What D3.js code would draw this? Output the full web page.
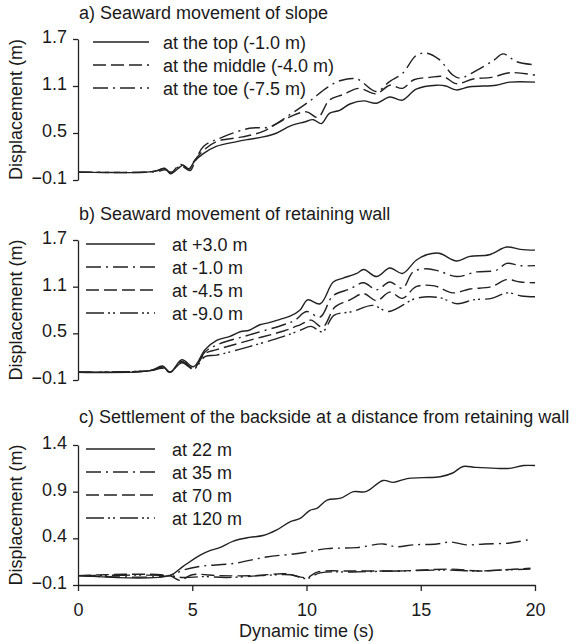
<!DOCTYPE html>
<html>
<head>
<meta charset="utf-8">
<script src="https://cdn.jsdelivr.net/npm/d3@7"></script>
<style>
  body { margin: 0; background: #fff; }
  svg { display: block; }
  text { font-family: "Liberation Sans", Arial, sans-serif; fill: #1a1a1a; }
</style>
</head>
<body>
<svg id="chart" width="577" height="644"></svg>
<script>
// ---------- data ----------
const xTicks = [0, 5, 10, 15, 20];
const yTicksAB = [-0.1, 0.5, 1.1, 1.7];
const yTicksC = [-0.1, 0.4, 0.9, 1.4];

const titles = [
  "a) Seaward movement of slope",
  "b) Seaward movement of retaining wall",
  "c) Settlement of the backside at a distance from retaining wall"
];
const legendA = ["at the top (-1.0 m)", "at the middle (-4.0 m)", "at the toe (-7.5 m)"];
const legendB = ["at +3.0 m", "at -1.0 m", "at -4.5 m", "at -9.0 m"];
const legendC = ["at 22 m", "at 35 m", "at 70 m", "at 120 m"];

// panel a
const aTopT = [0, 3.0, 3.45, 3.8, 4.05, 4.4, 4.6, 4.85, 5.1, 5.5, 6.05, 6.95, 7.5, 8.1, 8.7, 9.3, 9.9, 10.3, 10.65, 11.0, 11.45, 11.9, 12.5, 13.05, 13.65, 14.2, 14.8, 15.7, 16.1, 16.55, 17.15, 18.3, 18.9, 20];
const aTopV = [0, 0, 0.02, 0.05, -0.02, 0.05, 0.09, 0.04, 0.14, 0.24, 0.33, 0.39, 0.42, 0.45, 0.50, 0.59, 0.64, 0.67, 0.62, 0.75, 0.79, 0.87, 0.91, 0.88, 0.96, 0.92, 1.06, 1.11, 1.10, 1.05, 1.09, 1.11, 1.15, 1.15];
const aMidT = [0, 3.0, 3.5, 3.8, 4.05, 4.5, 4.85, 5.1, 5.5, 6.05, 7.2, 8.1, 8.7, 9.3, 10.0, 10.5, 11.0, 11.6, 12.3, 13.05, 13.65, 14.2, 14.7, 15.4, 16.0, 16.55, 17.3, 18.1, 18.9, 20];
const aMidV = [0, 0, 0.02, 0.05, -0.01, 0.10, 0.04, 0.15, 0.28, 0.39, 0.45, 0.52, 0.62, 0.71, 0.77, 0.70, 0.92, 0.99, 1.07, 1.00, 1.11, 1.07, 1.18, 1.21, 1.22, 1.13, 1.19, 1.21, 1.27, 1.24];
const aToeT = [0, 3.0, 3.5, 3.8, 4.1, 4.5, 4.9, 5.1, 5.5, 6.35, 7.5, 8.4, 9.3, 10.15, 10.9, 11.5, 12.2, 13.05, 13.65, 14.2, 14.8, 15.25, 15.8, 16.4, 16.7, 17.45, 18.2, 18.6, 19.2, 20];
const aToeV = [0, 0, 0.01, 0.03, 0.0, 0.08, 0.02, 0.12, 0.33, 0.45, 0.56, 0.58, 0.74, 0.91, 1.08, 1.17, 1.19, 1.03, 1.16, 1.26, 1.49, 1.52, 1.44, 1.24, 1.20, 1.30, 1.43, 1.51, 1.41, 1.37];

// panel b
const bP3T = [0, 3.15, 3.7, 4.03, 4.55, 5.05, 5.56, 6.07, 6.65, 7.1, 7.5, 7.96, 8.4, 8.84, 9.28, 9.72, 10.05, 10.6, 11.17, 11.6, 12.2, 12.5, 13.07, 13.65, 14.2, 14.8, 15.26, 15.8, 16.57, 17.15, 18.0, 18.76, 19.35, 20];
const bP3V = [0, 0.02, 0.08, 0.0, 0.16, 0.07, 0.29, 0.41, 0.46, 0.52, 0.54, 0.61, 0.64, 0.68, 0.72, 0.80, 0.93, 0.88, 1.16, 1.21, 1.27, 1.32, 1.23, 1.34, 1.27, 1.44, 1.51, 1.53, 1.43, 1.49, 1.51, 1.61, 1.58, 1.57];
const bM1T = [0, 3.15, 3.7, 4.03, 4.55, 5.05, 5.56, 6.07, 7.5, 9.0, 9.5, 10.0, 10.6, 11.15, 11.9, 12.5, 13.07, 13.65, 14.2, 14.67, 15.26, 15.8, 16.57, 17.45, 18.3, 18.76, 19.35, 20];
const bM1V = [0, 0.02, 0.07, 0.0, 0.14, 0.05, 0.26, 0.35, 0.48, 0.61, 0.67, 0.78, 0.71, 0.98, 1.07, 1.15, 1.06, 1.16, 1.08, 1.29, 1.33, 1.30, 1.23, 1.29, 1.31, 1.40, 1.37, 1.37];
const bM45T = [0, 3.15, 3.7, 4.03, 4.55, 5.05, 5.56, 6.07, 7.5, 9.0, 9.72, 10.2, 10.7, 11.25, 11.9, 12.5, 13.07, 13.65, 14.2, 14.8, 15.6, 16.4, 17.15, 18.1, 18.76, 19.35, 20];
const bM45V = [0, 0.02, 0.06, 0.0, 0.13, 0.05, 0.24, 0.29, 0.41, 0.53, 0.61, 0.67, 0.58, 0.84, 0.93, 1.01, 0.92, 1.03, 0.95, 1.10, 1.11, 1.02, 1.07, 1.10, 1.19, 1.16, 1.15];
const bM9T = [0, 3.15, 3.7, 4.03, 4.55, 5.05, 5.56, 6.07, 7.5, 9.0, 9.72, 10.2, 10.7, 11.2, 12.0, 12.9, 13.6, 14.8, 15.8, 16.6, 17.3, 18.1, 18.8, 19.4, 20];
const bM9V = [0, 0.02, 0.05, 0.0, 0.12, 0.04, 0.20, 0.22, 0.33, 0.46, 0.54, 0.59, 0.52, 0.73, 0.78, 0.86, 0.78, 0.95, 0.96, 0.88, 0.93, 0.95, 1.02, 0.98, 0.97];

// panel c
const c22T = [0, 4.0, 4.6, 5.35, 5.8, 6.2, 6.8, 7.5, 8.1, 8.7, 9.3, 9.7, 10.15, 10.45, 10.9, 11.5, 12.05, 12.6, 13.35, 13.8, 14.4, 15.1, 15.85, 16.4, 16.85, 17.4, 18.3, 18.9, 19.5, 20];
const c22V = [0, 0, 0.10, 0.22, 0.27, 0.30, 0.37, 0.41, 0.43, 0.49, 0.58, 0.61, 0.70, 0.72, 0.81, 0.83, 0.90, 0.90, 1.02, 1.00, 1.04, 1.05, 1.06, 1.10, 1.17, 1.16, 1.15, 1.15, 1.18, 1.18];
const c35T = [0, 4.0, 4.6, 5.35, 6.8, 8.25, 9.7, 10.9, 12.2, 13.35, 13.9, 14.7, 15.7, 16.3, 17.0, 17.8, 18.9, 19.8];
const c35V = [0, 0, 0.06, 0.10, 0.13, 0.20, 0.24, 0.29, 0.30, 0.34, 0.31, 0.33, 0.34, 0.36, 0.33, 0.34, 0.35, 0.39];
const c70T = [0, 4.0, 4.45, 5.0, 6.2, 7.7, 9.1, 10.0, 10.5, 12.0, 14.0, 16.3, 17.5, 18.5, 19.8];
const c70V = [0, 0, -0.05, 0.01, 0.0, 0.0, 0.02, -0.02, 0.04, 0.05, 0.05, 0.07, 0.05, 0.06, 0.08];
const c120T = [0, 4.0, 4.6, 5.5, 6.5, 8.0, 9.3, 10.0, 10.6, 12.0, 14.0, 16.0, 17.5, 18.5, 19.8];
const c120V = [0, 0, -0.02, -0.01, -0.02, 0.0, 0.01, -0.03, 0.03, 0.04, 0.05, 0.06, 0.05, 0.06, 0.07];

// ---------- styles / layout ----------
const DASH = {
  solid: null,
  dash: "13,5",
  dashdot: "15,5,2,5",
  dashdotdot: "18,4,2,3,2,5"
};
const ink = "#222";
const FONT = 18;

const zip = (t, v) => t.map((d, i) => ({ t: d, v: v[i] }));

const panels = [
  {
    title: titles[0], titleY: 19, domain: [-0.1, 1.7], range: [180, 39], ticks: yTicksAB,
    legend: { x1: 93, x2: 149, tx: 163, y0: 42, dy: 23 },
    series: [
      { name: legendA[0], d: zip(aTopT, aTopV), style: "solid" },
      { name: legendA[1], d: zip(aMidT, aMidV), style: "dash" },
      { name: legendA[2], d: zip(aToeT, aToeV), style: "dashdot" }
    ]
  },
  {
    title: titles[1], titleY: 219.5, domain: [-0.1, 1.7], range: [380, 240], ticks: yTicksAB,
    legend: { x1: 86, x2: 155, tx: 172, y0: 244, dy: 23 },
    series: [
      { name: legendB[0], d: zip(bP3T, bP3V), style: "solid" },
      { name: legendB[1], d: zip(bM1T, bM1V), style: "dashdot" },
      { name: legendB[2], d: zip(bM45T, bM45V), style: "dash" },
      { name: legendB[3], d: zip(bM9T, bM9V), style: "dashdotdot" }
    ]
  },
  {
    title: titles[2], titleY: 423, domain: [-0.1, 1.4], range: [585, 445], ticks: yTicksC,
    legend: { x1: 86, x2: 155, tx: 172, y0: 449, dy: 23 },
    xAxis: true,
    series: [
      { name: legendC[0], d: zip(c22T, c22V), style: "solid" },
      { name: legendC[1], d: zip(c35T, c35V), style: "dashdot" },
      { name: legendC[2], d: zip(c70T, c70V), style: "dash" },
      { name: legendC[3], d: zip(c120T, c120V), style: "dashdotdot" }
    ]
  }
];

const svg = d3.select("#chart");
const x = d3.scaleLinear().domain([0, 20]).range([78, 535]);

panels.forEach(p => {
  const y = d3.scaleLinear().domain(p.domain).range(p.range);
  const g = svg.append("g");

  // title
  g.append("text").attr("x", 79).attr("y", p.titleY)
    .attr("font-size", FONT).text(p.title);

  // y axis
  const ya = g.append("g").attr("transform", `translate(${x(0)},0)`)
    .call(d3.axisLeft(y).tickValues(p.ticks).tickSize(5).tickSizeOuter(0).tickPadding(6)
      .tickFormat(d3.format(".1f")));
  ya.select(".domain").attr("stroke", ink).attr("stroke-width", 1.3);
  ya.selectAll(".tick line").attr("stroke", ink).attr("stroke-width", 1.3);
  ya.selectAll(".tick text").attr("font-size", FONT).attr("fill", "#1a1a1a")
    .attr("font-family", "Liberation Sans, Arial, sans-serif").attr("dy", "0.2em");

  // y label
  const cy = (p.range[0] + p.range[1]) / 2;
  g.append("text").attr("transform", `translate(22,${cy}) rotate(-90)`)
    .attr("text-anchor", "middle").attr("font-size", FONT).text("Displacement (m)");

  // x axis (bottom panel only)
  if (p.xAxis) {
    const xa = g.append("g").attr("transform", `translate(0,${p.range[0]})`)
      .call(d3.axisBottom(x).tickValues(xTicks).tickSize(6).tickSizeOuter(0).tickPadding(12));
    xa.select(".domain").attr("stroke", ink).attr("stroke-width", 1.3);
    xa.selectAll(".tick line").attr("stroke", ink).attr("stroke-width", 1.3);
    xa.selectAll(".tick text").attr("font-size", FONT).attr("fill", "#1a1a1a")
      .attr("font-family", "Liberation Sans, Arial, sans-serif");
    g.append("text").attr("x", x(10)).attr("y", 637).attr("text-anchor", "middle")
      .attr("font-size", FONT).text("Dynamic time (s)");
  }

  // lines
  const line = d3.line().x(d => x(d.t)).y(d => y(d.v)).curve(d3.curveCatmullRom.alpha(0.5));
  p.series.forEach(s => {
    g.append("path").datum(s.d).attr("d", line)
      .attr("fill", "none").attr("stroke", ink).attr("stroke-width", 1.4)
      .attr("stroke-dasharray", DASH[s.style]);
  });

  // legend
  const L = p.legend;
  p.series.forEach((s, i) => {
    const ly = L.y0 + i * L.dy;
    g.append("line").attr("x1", L.x1).attr("x2", L.x2).attr("y1", ly).attr("y2", ly)
      .attr("stroke", ink).attr("stroke-width", 1.4).attr("stroke-dasharray", DASH[s.style]);
    g.append("text").attr("x", L.tx).attr("y", ly + 6.5).attr("font-size", FONT).text(s.name);
  });
});
</script>
</body>
</html>
